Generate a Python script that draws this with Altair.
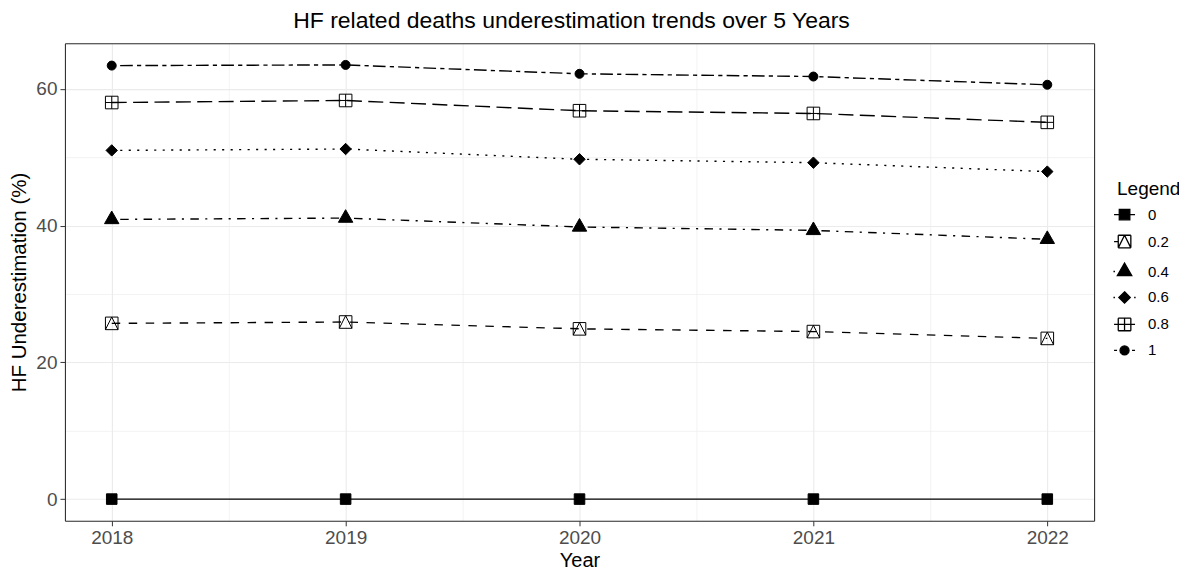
import altair as alt
import pandas as pd

# ---- data ----
years = [2018, 2019, 2020, 2021, 2022]
levels = ["0", "0.2", "0.4", "0.6", "0.8", "1"]
v_0 = [0.0, 0.0, 0.0, 0.0, 0.0]
v_02 = [25.7, 25.9, 24.9, 24.5, 23.5]
v_04 = [40.9, 41.1, 39.8, 39.3, 38.0]
v_06 = [51.0, 51.2, 49.7, 49.2, 47.9]
v_08 = [58.0, 58.3, 56.8, 56.4, 55.1]
v_1 = [63.4, 63.5, 62.2, 61.8, 60.6]
series = [v_0, v_02, v_04, v_06, v_08, v_1]

x_ticks = [2018, 2019, 2020, 2021, 2022]
x_minor = [2018.5, 2019.5, 2020.5, 2021.5]
y_ticks = [0, 20, 40, 60]
y_minor = [10, 30, 50]

rows = []
for lvl, vals in zip(levels, series):
    for yr, v in zip(years, vals):
        rows.append({"Year": yr, "Value": v, "Legend": lvl})
df = pd.DataFrame(rows)

# ---- styles ----
FONT = "Liberation Sans"
BORDER = "#333333"
dash_range = [
    [1, 0],                    # solid
    [8.5, 8.5],                # dashed
    [2.1, 6.4, 8.5, 6.4],      # dotdash
    [2.1, 6.4],                # dotted
    [15, 6.4],                 # longdash
    [4.2, 4.2, 12.7, 4.2],     # twodash
]

sq = "M-0.88,-0.88L0.88,-0.88L0.88,0.88L-0.88,0.88Z"
open_sq = ("M-1.05,-1.05L1.05,-1.05M1.05,-1.05L1.05,1.05"
           "M1.05,1.05L-1.05,1.05M-1.05,1.05L-1.05,-1.05")
sq_tri = open_sq + "M-1.05,1.05L0,-1.05M0,-1.05L1.05,1.05"
tri = "M0,-1.4L1.2,0.7L-1.2,0.7Z"
dia = "M0,-0.95L0.95,0L0,0.95L-0.95,0Z"
sq_plus = open_sq + "M0,-1.05L0,1.05M-1.05,0L1.05,0"
circ = "M-0.75,0A0.75,0.75,0,1,1,0.75,0A0.75,0.75,0,1,1,-0.75,0Z"
shape_range = [sq, sq_tri, tri, dia, sq_plus, circ]

legend_range = [
    sq + "M-1.75,0L1.75,0",
    sq_tri + "M-1.75,0L-1.05,0",
    tri + "M-1.85,0L-1.6,0",
    dia + "M-1.85,0L-1.6,0M1.6,0L1.85,0",
    sq_plus + "M-1.75,0L-1.05,0M1.05,0L1.75,0",
    circ + "M-1.75,0L-1.25,0M1.25,0L1.75,0",
]

x_scale = alt.Scale(domain=[2017.8, 2022.2], nice=False, zero=False)
y_scale = alt.Scale(domain=[-3.175, 66.675], nice=False, zero=False)

# minor grid + legend layer (no marks drawn)
legend_layer = alt.Chart(df).transform_filter("false").mark_point(
    filled=True, fill="black", stroke="black", strokeWidth=1.3, size=144, opacity=1
).encode(
    x=alt.X("Year:Q", scale=x_scale, axis=alt.Axis(
        values=x_minor, orient="top", grid=True, gridColor="#EBEBEB", gridWidth=0.6,
        labels=False, ticks=False, domain=True, domainColor=BORDER, domainWidth=1.1,
        title=None)),
    y=alt.Y("Value:Q", scale=y_scale, axis=alt.Axis(
        values=y_minor, orient="right", grid=True, gridColor="#EBEBEB", gridWidth=0.6,
        labels=False, ticks=False, domain=True, domainColor=BORDER, domainWidth=1.1,
        title=None)),
    stroke=alt.value("black"),
    fill=alt.value("black"),
    shape=alt.Shape("Legend:N", scale=alt.Scale(domain=levels, range=legend_range),
                    legend=alt.Legend(
                        title="Legend", orient="none", legendX=1053, legendY=137,
                        padding=0, titleFont=FONT, titleFontSize=19, titleFontWeight="normal",
                        titleColor="black", titlePadding=8, labelFont=FONT, labelFontSize=15,
                        labelColor="black", symbolSize=144, labelOffset=16, rowPadding=9,
                        symbolOpacity=1, symbolStrokeWidth=1.3)),
)

lines = alt.Chart(df).mark_line(color="black", strokeWidth=1.4, strokeCap="butt").encode(
    x=alt.X("Year:Q", scale=x_scale, axis=alt.Axis(
        values=x_ticks, format="d", orient="bottom", title="Year",
        grid=True, gridColor="#EBEBEB", gridWidth=1.1,
        domain=True, domainColor=BORDER, domainWidth=1.1,
        ticks=True, tickSize=5, tickColor=BORDER, tickWidth=1,
        labelFont=FONT, labelFontSize=19, labelColor="#4D4D4D", labelPadding=3,
        titleFont=FONT, titleFontSize=20, titleFontWeight="normal", titleColor="black",
        titlePadding=3)),
    y=alt.Y("Value:Q", scale=y_scale, axis=alt.Axis(
        values=y_ticks, orient="left", title="HF Underestimation (%)",
        grid=True, gridColor="#EBEBEB", gridWidth=1.1,
        domain=True, domainColor=BORDER, domainWidth=1.1,
        ticks=True, tickSize=5, tickColor=BORDER, tickWidth=1,
        labelFont=FONT, labelFontSize=19, labelColor="#4D4D4D", labelPadding=3,
        titleFont=FONT, titleFontSize=20.5, titleFontWeight="normal", titleColor="black",
        titlePadding=6)),
    strokeDash=alt.StrokeDash("Legend:N", scale=alt.Scale(domain=levels, range=dash_range),
                              legend=None),
    detail="Legend:N",
)

points = alt.Chart(df).mark_point(
    filled=True, fill="black", stroke="black", strokeWidth=1.0, size=144, opacity=1
).encode(
    x=alt.X("Year:Q", scale=x_scale, axis=None),
    y=alt.Y("Value:Q", scale=y_scale, axis=None),
    shape=alt.Shape("Legend:N", scale=alt.Scale(domain=levels, range=shape_range),
                    legend=None),
)

chart = alt.layer(legend_layer, lines, points).resolve_axis(
    x="independent", y="independent"
).resolve_scale(shape="independent").properties(
    width=1030, height=478,
    padding={"left": 57, "top": 35, "right": 85, "bottom": 50},
    autosize=alt.AutoSizeParams(type="none"),
    title=alt.TitleParams("HF related deaths underestimation trends over 5 Years",
                          font=FONT, fontSize=23, fontWeight="normal", color="black",
                          anchor="middle", offset=10, dx=-8),
).configure_view(strokeWidth=0).configure(background="white")

chart.save("out.html", embed_options={"renderer": "svg", "actions": False})
